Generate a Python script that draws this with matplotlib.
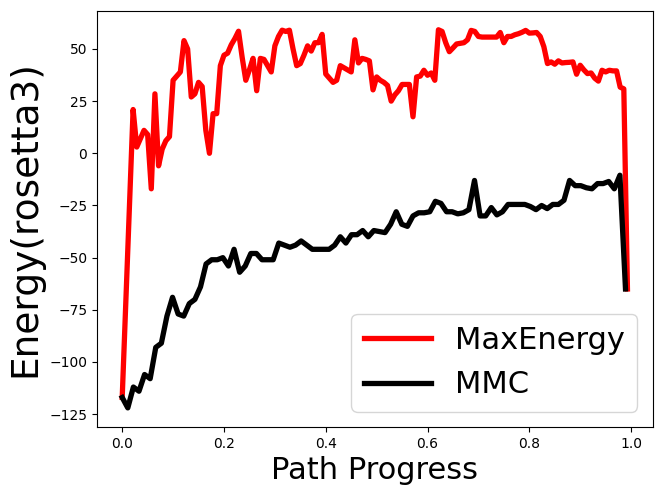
import matplotlib
matplotlib.use("Agg")
import matplotlib.pyplot as plt
import numpy as np

# energy along the path
max_energy = [
    -117, -71, -25, 21, 3, 7, 11, 9, -17, 28.5,
    -6, 2, 6, 8, 35, 37, 39, 54, 50, 27,
    28.5, 34, 32, 11, 0, 19, 19, 42, 47, 48,
    52, 55, 58.5, 46, 35, 40, 45.5, 30, 45.5, 45,
    42, 39, 51.5, 56, 59, 58.4, 59, 50, 42, 43,
    47, 51.5, 49, 53, 53, 57, 38, 36, 34, 35,
    42, 41, 40, 39, 54.4, 43.3, 45.5, 45, 44.3, 30.4,
    36.6, 35, 34, 32.5, 25, 28, 30, 33, 33, 33,
    17.5, 36.6, 37, 39.8, 37.4, 38.5, 35, 59.2, 58.4, 53,
    48.7, 50.5, 52.4, 52.7, 53, 54.4, 58.9, 58.4, 56, 55.7,
    55.7, 55.7, 55.7, 55.7, 57.9, 53, 56, 56, 56.8, 57.3,
    58, 58.9, 57.6, 57.7, 57.9, 56, 51.1, 43, 43.8, 42.7,
    44.3, 43.3, 43.5, 43.6, 43.8, 37.9, 42.2, 40, 38.2, 38.5,
    36, 34.6, 39.8, 39, 39.8, 39.5, 39.5, 31.7, 30.9, -65,
]
mmc = [
    -117, -122, -112, -114, -106, -108, -93, -91, -78, -69,
    -77, -78, -72, -70, -64, -53, -51, -51, -50, -54,
    -46, -57, -54, -48, -48, -51, -51, -51, -43, -44,
    -45, -44, -42, -44, -46, -46, -46, -46, -44, -40,
    -43, -39, -39, -37, -40, -37, -37.5, -38, -34, -28,
    -34, -35, -30, -28.5, -28.5, -28, -23, -24, -28, -28,
    -29, -28.5, -27, -13, -30, -30, -26, -29.5, -28, -24.5,
    -24.5, -24.5, -24.5, -25.5, -27, -25, -26.5, -24.5, -24.5, -22.5,
    -13, -15.5, -15.5, -16.5, -17, -14.5, -14.5, -13.5, -17, -10.5,
    -65,
]

progress_max = np.arange(len(max_energy)) / len(max_energy)
progress_mmc = np.arange(len(mmc)) / len(mmc)

fig = plt.figure(figsize=(6.64, 4.94), dpi=100)
ax = fig.add_axes([0.146, 0.136, 0.837, 0.842])

ax.plot(progress_max, max_energy, color='red', linewidth=3.8, label='MaxEnergy')
ax.plot(progress_mmc, mmc, color='black', linewidth=3.8, label='MMC')

ax.set_xticks(np.arange(0, 1.01, 0.2))
ax.set_yticks(np.arange(-125, 51, 25))
ax.tick_params(labelsize=10)

ax.set_xlabel('Path Progress', fontsize=22)
ax.set_ylabel('Energy(rosetta3)', fontsize=27)

ax.legend(loc='lower right', fontsize=22, handlelength=2.2)

fig.savefig('out.png', dpi=100)
